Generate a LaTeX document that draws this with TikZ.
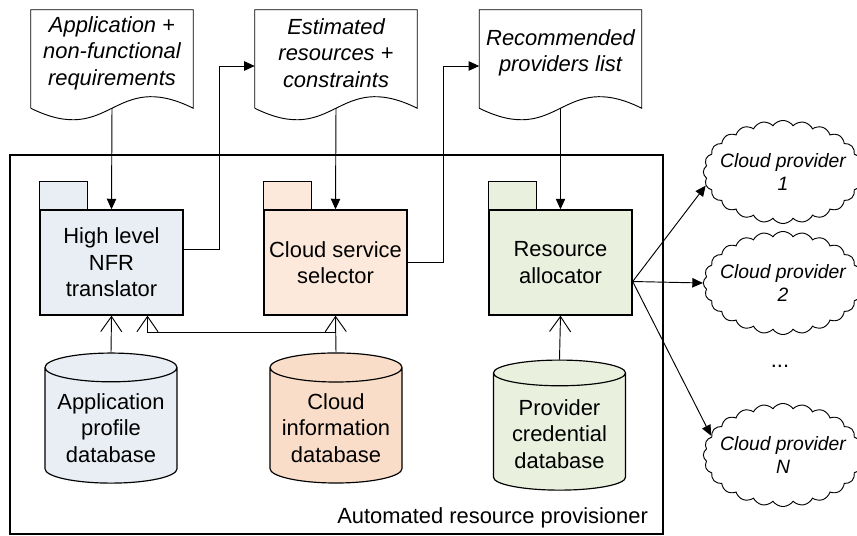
\documentclass[tikz,border=0pt]{standalone}
\usepackage{fontspec}
\setmainfont{Liberation Sans}
\usetikzlibrary{arrows.meta,calc,positioning,shapes.geometric,shapes.symbols}

\definecolor{nfrblue}{RGB}{232,238,243}
\definecolor{selpeach}{RGB}{252,233,219}
\definecolor{dbpeach}{RGB}{250,221,200}
\definecolor{allocgreen}{RGB}{234,240,222}

\tikzset{
  txt/.style={font=\fontsize{18.7}{22.5}\selectfont, align=center},
  pkg/.style={txt, draw, line width=1.2pt, minimum width=122pt, minimum height=89.6pt},
  doc/.style={txt, font=\fontsize{18.7}{22.5}\selectfont\itshape, inner sep=0pt,
    minimum width=138.3pt, minimum height=73.4pt},
  db/.style={txt, cylinder, shape border rotate=90, draw, line width=1pt, aspect=0.25,
    minimum width=112.7pt, minimum height=111pt, cylinder uses custom fill},
  provider/.style={cloud, cloud ignores aspect, draw, line width=0.8pt, cloud puffs=24,
    cloud puff arc=110, inner sep=0pt, minimum width=136pt, minimum height=88pt},
  provtext/.style={align=center, font=\fontsize{16.5}{19.5}\selectfont\itshape},
  flow/.style={line width=0.8pt, -{Triangle[length=9pt,width=8pt]}},
  feed/.style={line width=0.8pt, -{Straight Barb[length=13pt,width=18pt]}},
}

\begin{document}
\begin{tikzpicture}[x=0.03cm, y=-0.03cm]
  \useasboundingbox (0,0) rectangle (857,536);

  % rammen for hele provisioneren
  \node (prov) [draw, line width=1.2pt, minimum width=557.4pt, minimum height=323.5pt] at (336.5,344.5) {};
  \node (provname) [txt, anchor=base east] at (652,523) {Automated resource provisioner};

  % dokumenter
  \node (req) [doc] at (112,53) {Application +\\non-functional\\requirements};
  \node (est) [doc] at (336,53) {Estimated\\resources +\\constraints};
  \node (rec) [doc] at (560.5,53) {Recommended\\providers list};
  \foreach \d in {req,est,rec} {
    \draw[line width=0.8pt] ($(\d.south west)+(0,12)$) |- (\d.north east) -- ($(\d.south east)+(0,12)$)
      .. controls +(-81,-40) and +(81,40) .. ($(\d.south west)+(0,12)$);
  }

  % komponenter (pakker med fane)
  \node (nfr) [pkg, fill=nfrblue] at (111.5,262.5) {High level\\NFR\\translator};
  \node (sel) [pkg, fill=selpeach] at (335.5,262.5) {Cloud service\\selector};
  \node (alloc) [pkg, fill=allocgreen] at (560.5,262.5) {Resource\\allocator};
  \foreach \p/\c in {nfr/nfrblue,sel/selpeach,alloc/allocgreen} {
    \draw[line width=1.2pt, fill=\c] (\p.north west) rectangle ++(48,-28);
  }

  % databaser
  \node (apdb) [db, cylinder body fill=nfrblue, cylinder end fill=nfrblue] at (111,428) {Application\\profile\\database};
  \node (cidb) [db, cylinder body fill=dbpeach, cylinder end fill=dbpeach] at (336,428) {Cloud\\information\\database};
  \node (pcdb) [db, cylinder body fill=allocgreen, cylinder end fill=allocgreen] at (559.5,434) {Provider\\credential\\database};

  % skyleverandører
  \node (cp1) [provider, label={[provtext]center:{Cloud provider\\1}}] at (783,172) {};
  \node (cp2) [provider, label={[provtext]center:{Cloud provider\\2}}] at (783,283) {};
  \node (cpn) [provider, label={[provtext]center:{Cloud provider\\N}}] at (783,455) {};
  \node (dots) [txt] at (780,366) {...};

  % dataflyt
  \draw[flow] ($(req.south)+(0,12)$) -- (nfr.north);
  \draw[flow] ($(est.south)+(0,12)$) -- (sel.north);
  \draw[flow] ($(rec.south)+(0,12)$) -- (alloc.north);
  \draw[flow] ($(nfr.east)+(0,-13)$) -- ++(36,0) |- ($(est.west)+(0,13)$);
  \draw[flow] (sel.east) -- ++(36,0) |- ($(rec.west)+(0,13)$);

  \draw[feed] (apdb.north) -- (nfr.south);
  \draw[feed] (cidb.north) -- (sel.south);
  \draw[feed] ($(cidb.north)+(0,-20)$) -| ($(nfr.south)+(36,0)$);
  \draw[feed] (pcdb.north) -- (alloc.south);

  \coordinate (fan) at ($(alloc.east)+(0,19)$);
  \draw[flow] (fan) -- (cp1.190);
  \draw[flow] (fan) -- (cp2.west);
  \draw[flow] (fan) -- (cpn.165);
\end{tikzpicture}
\end{document}
